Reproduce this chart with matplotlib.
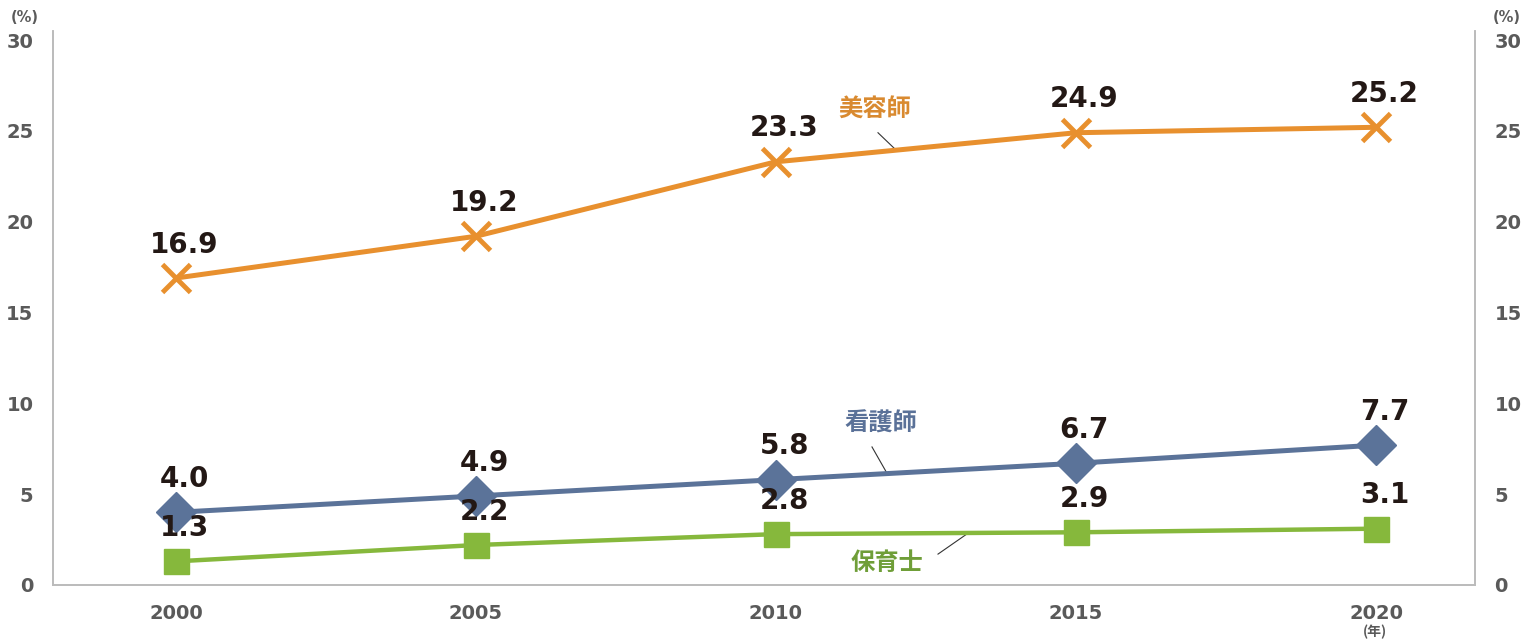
import matplotlib
matplotlib.use("Agg")
import matplotlib.pyplot as plt

plt.rcParams['font.family'] = ['DejaVu Sans', 'Noto Sans CJK JP']

years = ["2000", "2005", "2010", "2015", "2020"]
biyoushi = [16.9, 19.2, 23.3, 24.9, 25.2]
kangoshi = [4.0, 4.9, 5.8, 6.7, 7.7]
hoikushi = [1.3, 2.2, 2.8, 2.9, 3.1]
y_ticks = [0, 5, 10, 15, 20, 25, 30]

ORANGE = "#E8902E"
BLUE = "#5B7399"
GREEN = "#86B83C"
LABEL = "#231815"
TICK = "#5a5a5a"

fig = plt.figure(figsize=(15.26, 6.41), dpi=100)
ax = fig.add_axes([0.0347, 0.0874, 0.9319, 0.8642])
x = list(range(len(years)))

ax.plot(x, biyoushi, color=ORANGE, lw=3.6, marker="x", ms=20, mew=3.5, zorder=3)
ax.plot(x, kangoshi, color=BLUE, lw=3.6, marker="D", ms=20, zorder=3)
ax.plot(x, hoikushi, color=GREEN, lw=3.2, marker="s", ms=18, zorder=3)

for vals in (biyoushi, kangoshi, hoikushi):
    for xi, v in zip(x, vals):
        ax.annotate(f"{v:.1f}", (xi, v), xytext=(6, 14), textcoords="offset points",
                    ha="center", va="bottom", fontsize=20, fontweight="bold",
                    color=LABEL, zorder=4)

# series names with leader lines
names = [("美容師", "#D98A30", (2.33, 26.2), (2.34, 24.9), (2.40, 23.95)),
         ("看護師", "#5A7198", (2.35, 8.9), (2.32, 7.6), (2.37, 6.15)),
         ("保育士", "#6F9E38", (2.37, 1.2), (2.54, 1.7), (2.64, 2.85))]
for name, col, tpos, p0, p1 in names:
    ax.text(tpos[0], tpos[1], name, color=col, fontsize=17.5, fontweight="bold",
            ha="center", va="center", family=["Noto Sans CJK JP", "DejaVu Sans"])
    ax.plot([p0[0], p1[0]], [p0[1], p1[1]], color="#333333", lw=0.8, zorder=2)

ax.set_xlim(-0.41, 4.33)
ax.set_ylim(0, 30.5)
ax.set_xticks(x)
ax.set_xticklabels(years)
ax.set_yticks(y_ticks)
ax.tick_params(length=0, labelsize=14, colors=TICK, pad=14)
ax.tick_params(axis="x", pad=14)

ax2 = ax.twinx()
ax2.set_ylim(0, 30.5)
ax2.set_yticks(y_ticks)
ax2.tick_params(length=0, labelsize=14, colors=TICK, pad=14)

for a in (ax, ax2):
    a.spines["top"].set_visible(False)
    for s in ("left", "right", "bottom"):
        a.spines[s].set_color("#bbbbbb")
        a.spines[s].set_linewidth(1.2)
    for lab in a.get_xticklabels() + a.get_yticklabels():
        lab.set_fontweight("semibold")

fig.text(25 / 1526, 1 - 17 / 641, "(%)", fontsize=10.5, color=TICK, fontweight="bold",
         ha="center", va="center")
fig.text(1507 / 1526, 1 - 17 / 641, "(%)", fontsize=10.5, color=TICK, fontweight="bold",
         ha="center", va="center")
fig.text(1375 / 1526, 1 - 632 / 641, "(年)", fontsize=10, color=TICK, fontweight="bold",
         ha="center", va="center", family=["Noto Sans CJK JP", "DejaVu Sans"])

fig.savefig("out.png", dpi=100)
